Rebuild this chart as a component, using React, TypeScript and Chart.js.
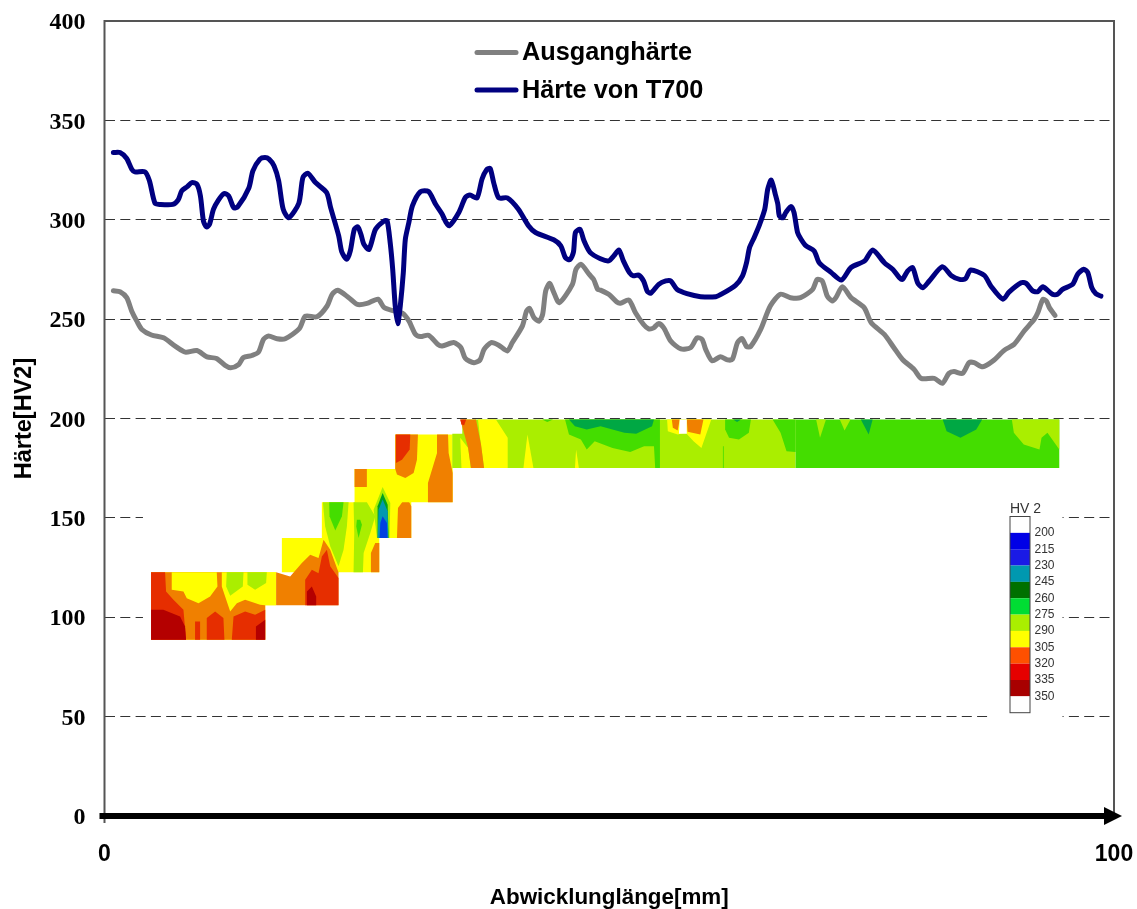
import React, { useEffect, useRef } from "react";
import { Chart, registerables } from "chart.js";

Chart.register(...registerables);

type Pt = [number, number];

const seriesNames = ["Ausganghärte", "Härte von T700"];
const xTitle = "Abwicklunglänge[mm]";
const yTitle = "Härte[HV2]";

const ausgangMm = [0.88,1.54,2.2,2.7,3.2,3.7,4.65,5.85,7,8,9.15,10.15,11.1,11.95,12.5,13.3,13.75,14.6,15.25,15.75,16.25,17.1,17.9,19.3,19.9,21.05,22.05,22.55,23.1,24.2,25.05,26,27.1,27.7,28.65,29.5,30.15,30.8,31.3,32.1,33,33.45,34.6,35.3,35.75,36.6,37.2,37.6,38.3,39.05,39.9,40.4,41.4,41.8,42.1,42.55,43.05,43.4,43.7,44.1,44.45,45.05,46.35,46.7,47.2,48,48.45,48.85,49.13,49.95,50.75,51.1,51.95,52.6,53.4,53.9,54.4,54.9,55.4,56.1,57.1,58.05,58.7,59.2,59.55,60.2,61,61.7,62.2,62.7,63.15,63.6,64,65,65.95,66.95,67.95,68.95,70.15,70.6,71.1,71.6,72.1,72.45,73.1,73.95,75.25,75.95,77.25,78.2,79.05,80.2,80.9,82.2,83,83.65,84.15,85,85.65,86.15,87,88,89.15,90.1,91.1,92.1,92.45,92.95,93.3,93.6,94.15];
const ausgangHv = [264.3,263.8,260.8,254,249,244.8,242,240.6,236.4,233.4,234.2,231,230.2,226.7,225.5,227.2,230.6,231.7,233.4,239.8,241.5,240.1,240.1,245.2,251.5,251.2,256.6,262.5,264.5,260.8,257.4,257.9,260,255.8,254.1,253,249.1,242.4,241.2,241.9,237.4,236.5,238.2,235.7,230.2,228.1,229.5,234.8,238.2,236.9,234,238.2,246.6,254,255.4,250.7,249,252.4,264.1,268,264.1,258.3,267.5,275,277.6,272.6,270,265,264.6,262.5,258.6,258,259.6,253.2,247.3,245.1,245.6,247.8,245.6,238.9,235,235.6,240.6,239.8,234.8,229,231.1,229.5,229.8,238.1,240.2,236.2,236.2,244.8,256.6,262.5,260.8,260.8,265,270,269.2,261.6,259.1,260.8,266.3,260.8,255.8,248.2,242.3,235.6,229.7,224.7,220.2,220.2,217.7,222.7,223.6,222.7,228.1,228.1,226,228.9,234.4,237.3,244,249.9,253.2,259.9,259.1,255.8,251.9];

const t700Mm = [0.88,1.54,2.2,2.7,3,4,4.45,5,5.5,6.76,7.3,7.65,8.2,8.65,9.15,9.5,9.8,10.1,10.4,10.8,11.3,11.85,12.3,12.8,13.2,14.3,14.7,15.4,15.9,16.3,16.8,17.25,17.7,18.25,19.25,19.65,20.15,20.9,22,22.4,23.2,23.5,24,24.35,24.75,25.1,25.4,25.7,26.2,26.85,27.7,28,28.3,28.55,28.8,29.05,29.3,29.6,29.8,30.15,30.5,31.3,32.1,32.8,33.45,33.8,34.15,35.1,35.75,36.2,36.9,37.4,37.85,38.2,38.55,39.05,39.9,41,42,42.7,44.5,45.2,45.65,46.1,46.45,46.65,47.1,47.5,48.1,49.13,49.95,50.45,50.95,51.4,52,52.4,52.9,53.4,53.75,54.1,54.9,55.6,56.1,56.7,57.7,59.05,60.55,61.2,62.5,63.2,63.6,63.9,64.35,64.9,65.4,65.7,66.05,66.45,66.7,66.85,67.2,67.5,68,68.3,68.65,69,69.5,70.3,70.8,72,73,73.95,75.3,76.1,77.25,78.1,78.75,79.05,79.55,80.05,80.55,81.05,81.7,83,83.9,84.7,85.3,85.8,87.15,87.8,89,89.6,90.8,91.3,91.95,92.45,92.95,93.9,94.4,94.9,95.9,96.4,97,97.4,97.8,98.2,98.7];
const t700Hv = [333.8,333.8,330.8,325.4,324.1,324.1,319.6,308.3,307.7,307.7,310,314.5,316.7,318.7,317.9,312,299.4,296.4,297.7,305.3,310,313.2,312,306.1,306.5,316,324.6,330.5,331.3,330.5,327.1,319.6,305.3,301,308.3,321.2,323.4,318.7,313.7,306.1,291.9,283.9,280.1,284.3,295.2,296.4,292.7,287.6,285.1,295.2,299.4,299.4,288.5,275,256.6,247.7,256.6,273.4,290.2,298.6,307,314.2,314.2,307.8,302.8,299,297,303.7,311.3,312.5,311,320.5,325.2,325.8,318.7,311,311,305.3,297,293.6,289.9,286.9,281,279.9,283.6,293.6,295.2,289.4,283.6,280.4,279.3,281.8,284.8,279.3,273.4,271.8,272.2,269.2,264.2,263,267.5,269.2,269.2,265,262.8,261.3,261.3,262.8,267,271.8,278.4,286,291,297.7,305.2,315.4,320,312.8,307.8,302,301,303.7,306.7,303.7,293.7,290.2,286.8,284.3,278.4,273.4,269.7,276,279.3,284.8,278.4,275,270.8,270,274.2,275.9,268.3,265.8,269.2,276.4,271.8,270,270.4,274.7,272,266.7,260,263.6,268.3,268,264.2,263.8,266.3,262.5,262.5,265,267.5,272.6,275.1,273.4,265.8,262.8,261.6];

// Colour-scale legend of the hardness map
const scaleTitle = "HV 2";
const scaleLabels = ["200","215","230","245","260","275","290","305","320","335","350"];
const scaleColours = ["#ffffff","#0000e6","#1a1ae6","#0098b0","#007000","#00dd33","#aaee00","#ffff00","#ff5000","#e60000","#a80000","#ffffff"];

// Hardness bands used by the contour patches
const bandColour: Record<string, string> = {
  mask: "#ffffff", white: "#ffffff", dred: "#b40000", red: "#e62e00", orange: "#f08000", yellow: "#ffff00",
  lime: "#aaee00", green: "#44dd00", teal: "#00a844", dgreen: "#00a020", cyan: "#0098b0", blue: "#0040e0",
};

// [band, outline in (mm, HV)] - painted in order
const patches: [string, Pt[]][] = [
  ["mask", [[3.81,199.2],[94.9,199.2],[94.9,49],[87.5,49],[87.5,52.4],[3.81,52.4]]],
  // block A
  ["yellow", [[4.61,122.7],[17,122.7],[17,106],[15.92,106],[15.92,88.7],[4.61,88.7]]],
  ["orange", [[4.61,122.7],[15.92,122.7],[15.92,88.7],[4.61,88.7]]],
  ["yellow", [[11.62,122.7],[17,122.7],[17,106],[15.92,106],[15.42,106.3],[13.93,108.8],[13.11,107.1],[12.45,102.9],[11.95,110.5],[11.62,115.5]]],
  ["yellow", [[6.66,122.7],[11.12,122.7],[11.19,115.5],[10.46,110.5],[9.31,107.1],[8.15,109.6],[7.82,113],[6.66,113.8]]],
  ["red", [[4.61,122.7],[6,122.7],[6.1,113],[6.83,108.8],[7.82,103.8],[8.08,88.7],[4.61,88.7]]],
  ["dred", [[4.61,103.8],[5.83,103.8],[7.49,100.4],[7.98,95.4],[8.08,88.7],[4.61,88.7]]],
  ["red", [[8.97,97.9],[9.47,97.9],[9.47,88.7],[8.97,88.7]]],
  ["red", [[10.07,88.7],[10.13,99.6],[10.96,102.9],[11.78,99.6],[11.88,88.7]]],
  ["red", [[12.61,88.7],[12.78,100.4],[13.93,102.9],[14.92,101.2],[15.92,103.8],[15.92,88.7]]],
  ["dred", [[14.92,88.7],[15,95.4],[15.92,98.7],[15.92,88.7]]],
  ["lime", [[12.11,122.7],[13.77,122.7],[13.7,115.5],[12.45,110.8],[12.05,115.5]]],
  ["lime", [[14.16,122.7],[16.08,122.7],[16.01,117.2],[14.92,113.8],[14.16,116.4]]],
  // blocks B, D, C
  ["yellow", [[17.57,139.9],[23.18,139.9],[23.18,122.7],[17.57,122.7]]],
  ["yellow", [[24.77,174.6],[30.39,174.6],[30.39,139.9],[24.77,139.9]]],
  ["yellow", [[21.53,157.8],[27.22,157.8],[27.22,122.7],[21.53,122.7]]],
  ["lime", [[21.63,157.8],[24.18,157.8],[24.01,145.7],[23.68,134],[23.18,125.6],[22.36,135.7],[21.86,145.7]]],
  ["green", [[22.26,157.8],[23.68,157.8],[23.52,150.8],[22.86,143.7],[22.29,150.8]]],
  ["lime", [[24.67,157.8],[25.99,157.8],[26.82,150.8],[26.33,142.4],[25.67,132.3],[25.6,122.7],[24.67,122.7],[24.74,142.4]]],
  ["green", [[25,149.1],[25.33,149.1],[25.5,146.6],[25.17,139.9],[24.94,145.7]]],
  ["orange", [[26.33,122.7],[26.39,132.3],[26.82,137.3],[27.22,137.3],[27.22,122.7]]],
  ["orange", [[17,122.7],[18.39,120.5],[19.55,127.3],[20.38,131.5],[21.2,129.8],[21.7,139],[22.36,134],[23.18,122.7],[23.18,106],[17,106]]],
  ["red", [[19.88,106],[19.88,118.9],[20.54,123.9],[21.2,122.2],[21.53,130.6],[22.03,134],[22.36,125.6],[23.18,119.7],[23.18,106]]],
  ["dred", [[20.05,106],[20.05,113],[20.54,115.5],[20.97,110.5],[20.97,106]]],
  // block D details
  ["orange", [[24.77,174.6],[25.99,174.6],[25.99,165.5],[24.77,165.5]]],
  ["lime", [[26.66,154.1],[27.55,165.5],[28.31,157.5],[28.24,139.9],[26.99,139.9]]],
  ["dgreen", [[27.05,155.8],[27.55,162.5],[28.05,156.6],[28.14,139.9],[27.05,139.9]]],
  ["cyan", [[27.15,154.1],[27.55,159.2],[28.05,153.3],[28.11,139.9],[27.05,139.9]]],
  ["blue", [[27.32,147.4],[27.55,150.8],[27.98,147.4],[28.05,139.9],[27.25,139.9]]],
  ["orange", [[28.97,139.9],[29.07,155],[29.9,160.8],[30.39,155.8],[30.39,139.9]]],
  // block E
  ["yellow", [[28.8,191.9],[34.49,191.9],[34.49,157.8],[28.8,157.8]]],
  ["orange", [[28.8,191.9],[31.05,191.9],[30.95,179.3],[30.62,172.6],[29.8,170.1],[28.97,171.8],[28.8,174.6]]],
  ["red", [[28.87,191.9],[30.29,191.9],[30.23,184.4],[29.47,179.3],[28.87,177.6]]],
  ["orange", [[32.94,191.9],[34.03,191.9],[34.09,182.7],[34.49,172.6],[34.49,157.8],[32.04,157.8],[32.04,167.6],[32.94,182.7]]],
  // block G
  ["lime", [[35.44,199.5],[68.46,199.5],[68.46,175.15],[34.45,175.15],[34.45,192.3],[35.44,192.3]]],
  ["yellow", [[35.24,190.3],[36.02,185.2],[36.3,175.15],[35.36,175.15]]],
  ["yellow", [[37,199.5],[38.77,199.5],[39.94,190.3],[39.94,175.15],[37.6,175.15],[37.2,190.3]]],
  ["orange", [[35.24,199.5],[36.8,199.5],[37.3,186.9],[37.6,175.15],[36.3,175.15],[36.02,185.2]]],
  ["red", [[35.24,199.5],[35.83,199.5],[35.63,196.6],[35.36,197]]],
  ["yellow", [[41.9,191.9],[42.49,175.15],[41.5,175.15]]],
  ["yellow", [[46.72,184.4],[46.99,175.15],[46.6,175.15]]],
  ["green", [[45.62,199.5],[55.02,199.5],[55.02,175.15],[54.55,175.15],[54.43,186.1],[53.45,186.1],[52.08,183.2],[50.32,185.2],[48.56,188.6],[47.77,184.4],[47.19,189.4],[46.01,191.9]]],
  ["teal", [[46.01,199.5],[54.43,199.5],[54.24,196.1],[52.67,192.3],[51.5,192.8],[49.14,196.1],[47.77,194.5],[46.6,196.1]]],
  ["green", [[43.35,199.5],[44.44,199.5],[43.86,198.3]]],
  ["yellow", [[55.73,199.5],[60.11,199.5],[59.13,185.2],[58.35,188.6],[57.57,192.8],[56.78,191.9],[55.8,193.6]]],
  ["orange", [[56.2,199.5],[56.98,199.5],[56.78,194],[56.3,195.3]]],
  ["orange", [[57.68,199.5],[59.33,199.5],[59.02,191.9],[57.76,193.3]]],
  ["white", [[56.98,199.5],[57.68,199.5],[57.68,192.3],[56.9,192.3]]],
  ["green", [[61.26,186.1],[61.34,186.1],[61.34,175.15],[61.26,175.15]]],
  ["green", [[61.48,199.5],[64.03,199.5],[63.83,192.8],[62.85,189.4],[61.87,190.3],[61.48,194.5]]],
  ["teal", [[62.27,199.5],[63.05,199.5],[62.66,198.3]]],
  ["green", [[66.18,199.5],[68.46,199.5],[68.46,183.2],[67.56,183.5],[66.97,192.8]]],
  ["green", [[68.46,199.5],[94.58,199.5],[94.58,175.15],[68.46,175.15]]],
  ["lime", [[70.49,199.5],[71.47,199.5],[70.88,190.3]]],
  ["lime", [[72.84,199.5],[73.9,199.5],[73.31,194]]],
  ["teal", [[74.92,199.5],[76.09,199.5],[75.7,191.9]]],
  ["teal", [[83.03,199.5],[86.94,199.5],[86.36,194.5],[84.79,190.3],[83.42,193.6]]],
  ["lime", [[89.88,199.5],[94.58,199.5],[94.58,184.4],[93.41,192.8],[92.82,190.3],[92.62,184.4],[91.06,186.9],[90.08,192.8]]],
];

const zip = (xs: number[], ys: number[]) => xs.map((x, i) => ({ x, y: ys[i] }));

const decor = {
  id: "decor",
  afterDraw(chart: any) {
    const { ctx, chartArea: a, scales } = chart;
    const ax = scales.x.getPixelForValue(0);
    const ay = scales.y.getPixelForValue(0);
    ctx.save();
    // frame
    ctx.strokeStyle = "#555555";
    ctx.lineWidth = 2;
    ctx.beginPath();
    ctx.moveTo(ax, ay + 7);
    ctx.lineTo(ax, a.top);
    ctx.lineTo(a.right, a.top);
    ctx.lineTo(a.right, ay);
    ctx.stroke();
    // x axis arrow
    ctx.strokeStyle = "#000000";
    ctx.fillStyle = "#000000";
    ctx.lineWidth = 6;
    ctx.beginPath();
    ctx.moveTo(ax - 5, ay);
    ctx.lineTo(a.right - 8, ay);
    ctx.stroke();
    ctx.beginPath();
    ctx.moveTo(a.right - 10, ay - 9);
    ctx.lineTo(a.right + 8, ay);
    ctx.lineTo(a.right - 10, ay + 9);
    ctx.closePath();
    ctx.fill();
    // series legend
    const rows = [
      { y: 52.5, c: "#808080", t: seriesNames[0] },
      { y: 90, c: "#000080", t: seriesNames[1] },
    ];
    ctx.font = "bold 25.3px 'Liberation Sans'";
    ctx.textAlign = "left";
    ctx.textBaseline = "middle";
    for (const r of rows) {
      ctx.strokeStyle = r.c;
      ctx.lineWidth = 5;
      ctx.lineCap = "round";
      ctx.beginPath();
      ctx.moveTo(477, r.y);
      ctx.lineTo(516, r.y);
      ctx.stroke();
      ctx.fillStyle = "#000000";
      ctx.fillText(r.t, 522, r.y + 1);
    }
    // colour scale legend
    const bx = 1010, bw = 20, by = 516.5, ch = 16.35;
    scaleColours.forEach((c, i) => {
      ctx.fillStyle = c;
      ctx.fillRect(bx, by + i * ch, bw, ch);
    });
    ctx.strokeStyle = "#444444";
    ctx.lineWidth = 1;
    ctx.strokeRect(bx, by, bw, ch * scaleColours.length);
    ctx.fillStyle = "#333333";
    ctx.font = "12px 'Liberation Sans'";
    scaleLabels.forEach((l, i) => ctx.fillText(l, 1034.5, by + (i + 1) * ch));
    ctx.font = "14px 'Liberation Sans'";
    ctx.textBaseline = "alphabetic";
    ctx.fillText(scaleTitle, 1010, 513);
    ctx.restore();
  },
};

export default function App() {
  const ref = useRef<HTMLCanvasElement>(null);
  useEffect(() => {
    const n = patches.length;
    const chart = new Chart(ref.current!, {
      type: "line",
      data: {
        datasets: [
          {
            label: seriesNames[1], data: zip(t700Mm, t700Hv), borderColor: "#000080", borderWidth: 5,
            tension: 0.25, pointRadius: 0, order: 0, fill: false, borderCapStyle: "round", borderJoinStyle: "round",
          },
          {
            label: seriesNames[0], data: zip(ausgangMm, ausgangHv), borderColor: "#808080", borderWidth: 5,
            tension: 0.25, pointRadius: 0, order: 1, fill: false, borderCapStyle: "round", borderJoinStyle: "round",
          },
          ...patches.map(([band, pts], i) => ({
            label: band, data: pts.map(([x, y]) => ({ x, y })), borderWidth: 0, borderColor: "transparent",
            backgroundColor: bandColour[band], fill: "shape", pointRadius: 0, tension: 0, order: 2 + n - i,
          })),
        ] as any,
      },
      options: {
        animation: false,
        responsive: false,
        layout: { padding: { top: 21, right: 23, left: 0, bottom: 0 } },
        plugins: { legend: { display: false }, tooltip: { enabled: false } },
        scales: {
          x: {
            type: "linear", min: 0, max: 100,
            ticks: { stepSize: 100, padding: 25, maxRotation: 0, color: "#000", font: { family: "'Liberation Sans'", weight: "bold", size: 23 } },
            grid: { display: false, drawTicks: false },
            border: { display: false },
            title: { display: true, text: xTitle, color: "#000", padding: { top: 0, bottom: -2 }, font: { family: "'Liberation Sans'", weight: "bold", size: 22.4 } },
            afterFit(s: any) { s.height = 93; s.paddingLeft = 0; s.paddingRight = 0; s.paddingTop = 0; s.paddingBottom = 0; },
          },
          y: {
            type: "linear", min: 0, max: 400,
            ticks: { stepSize: 50, padding: 19, labelOffset: 2, color: "#000", font: { family: "'Liberation Serif'", weight: "bold", size: 24 } },
            grid: {
              drawTicks: false, lineWidth: 1,
              color: (c: any) => (c.tick && (c.tick.value === 0 || c.tick.value === 400) ? "transparent" : "#333333"),
            },
            border: { display: false, dash: [10, 5.3] },
            title: { display: true, text: yTitle, color: "#000", padding: { top: 10, bottom: 0 }, font: { family: "'Liberation Sans'", weight: "bold", size: 23.5 } },
            afterFit(s: any) { s.width = 104.5; s.paddingLeft = 0; s.paddingRight = 0; s.paddingTop = 0; s.paddingBottom = 0; },
          },
        },
      } as any,
      plugins: [decor],
    });
    return () => chart.destroy();
  }, []);
  return (
    <div style={{ position: "absolute", left: 0, top: 0, width: 1137, height: 909, background: "#fff" }}>
      <canvas ref={ref} width={1137} height={909} style={{ display: "block" }} />
    </div>
  );
}
